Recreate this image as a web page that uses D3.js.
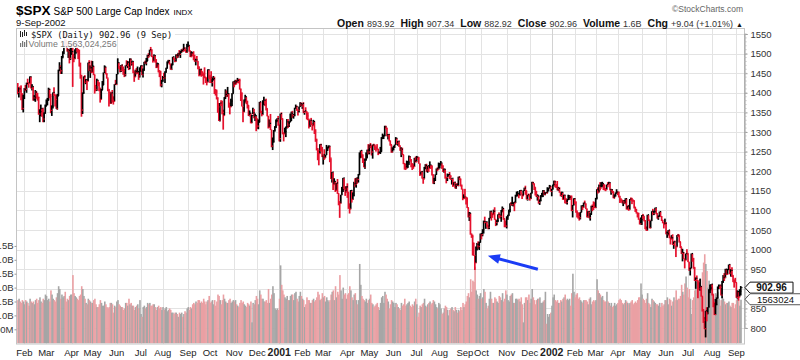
<!DOCTYPE html>
<html>
<head>
<meta charset="utf-8">
<script src="https://cdn.jsdelivr.net/npm/d3@7"></script>
<style>
  body { margin: 0; background: #fff; }
  svg { display: block; font-family: Arial, "Liberation Sans", sans-serif; }
</style>
</head>
<body>
<script>
// ---- data, one inner array per month ----
var monthLabels = ["", "Feb", "Mar", "Apr", "May", "Jun", "Jul", "Aug", "Sep", "Oct", "Nov", "Dec",
  "2001", "Feb", "Mar", "Apr", "May", "Jun", "Jul", "Aug", "Sep", "Oct", "Nov", "Dec",
  "2002", "Feb", "Mar", "Apr", "May", "Jun", "Jul", "Aug", "Sep"];
var priceTicks = [800, 850, 900, 950, 1000, 1050, 1100, 1150, 1200, 1250, 1300, 1350, 1400, 1450, 1500, 1550];
var volumeTicks = [0.5, 1, 1.5, 2, 2.5, 3, 3.5];
var volumeTickLabels = ["500M", "1.0B", "1.5B", "2.0B", "2.5B", "3.0B", "3.5B"];

var closes = [
  [1401,1410,1404,1398,1360,1394],
  [1409,1409,1424,1424,1424,1441,1411,1416,1387,1389,1402,1388,1388,1346,1352,1360,1353,1333,1348,1366],
  [1379,1381,1409,1391,1355,1366,1401,1395,1383,1359,1392,1458,1464,1456,1493,1500,1527,1527,1523,1507,1508,1488,1499],
  [1505,1494,1487,1501,1516,1504,1500,1467,1440,1356,1401,1441,1427,1434,1429,1477,1460,1464,1452],
  [1468,1446,1415,1409,1432,1424,1412,1383,1407,1420,1452,1466,1448,1438,1406,1400,1373,1400,1381,1378,1422,1421],
  [1448,1477,1467,1457,1471,1461,1456,1446,1470,1470,1478,1465,1486,1475,1480,1453,1441,1455,1450,1454,1443,1455],
  [1469,1446,1457,1478,1476,1481,1495,1495,1510,1510,1493,1481,1495,1480,1465,1474,1453,1450,1420,1431],
  [1439,1438,1452,1463,1479,1482,1473,1460,1471,1492,1485,1480,1496,1492,1499,1498,1506,1508,1507,1514,1510,1503,1518],
  [1521,1507,1492,1502,1495,1489,1481,1484,1480,1466,1445,1460,1452,1450,1449,1440,1428,1427,1459,1437],
  [1436,1426,1434,1436,1408,1402,1387,1364,1329,1374,1374,1350,1342,1389,1396,1395,1398,1365,1364,1379,1398,1429],
  [1421,1428,1427,1432,1431,1410,1400,1365,1351,1382,1390,1373,1368,1342,1348,1323,1342,1349,1336,1342,1315],
  [1315,1325,1377,1351,1344,1370,1381,1371,1360,1340,1312,1322,1305,1264,1274,1305,1315,1329,1334,1320],
  [1283,1347,1334,1298,1295,1301,1314,1326,1318,1326,1329,1348,1342,1343,1361,1365,1357,1355,1365,1373,1366],
  [1373,1350,1354,1352,1341,1333,1315,1330,1319,1316,1327,1302,1279,1256,1253,1245,1268,1258,1240],
  [1242,1234,1242,1253,1261,1264,1234,1180,1198,1166,1174,1151,1170,1143,1122,1118,1140,1153,1183,1154,1148,1160],
  [1146,1106,1103,1151,1128,1137,1168,1166,1183,1179,1191,1238,1253,1242,1225,1210,1228,1234,1254,1249],
  [1267,1266,1249,1267,1264,1262,1256,1256,1245,1249,1250,1285,1289,1292,1313,1310,1290,1294,1277,1268,1249,1256],
  [1261,1268,1284,1271,1277,1265,1255,1256,1242,1219,1215,1208,1213,1223,1237,1226,1219,1216,1212,1226,1224],
  [1236,1235,1219,1191,1199,1181,1180,1208,1215,1203,1214,1207,1216,1211,1191,1172,1182,1192,1206,1205,1211],
  [1216,1221,1214,1200,1205,1184,1184,1191,1192,1186,1179,1182,1162,1172,1157,1166,1163,1185,1180,1162,1154,1130,1134],
  [1133,1132,1107,1085,1093,1039,1033,1017,985,966,1004,1013,1008,1019,1041],
  [1038,1052,1072,1069,1071,1063,1057,1081,1098,1092,1090,1098,1077,1069,1074,1090,1085,1085,1101,1105,1079,1060,1060],
  [1084,1087,1102,1118,1115,1118,1121,1119,1139,1142,1143,1138,1151,1142,1137,1151,1157,1150,1128,1140,1139],
  [1130,1144,1171,1168,1159,1139,1136,1137,1120,1124,1135,1142,1150,1140,1145,1144,1150,1157,1162,1148],
  [1154,1166,1173,1165,1160,1155,1156,1146,1138,1146,1128,1139,1128,1120,1128,1133,1134,1133,1100,1114,1130],
  [1122,1094,1090,1084,1081,1096,1112,1108,1119,1117,1104,1084,1097,1081,1090,1110,1109,1109,1107],
  [1132,1154,1147,1163,1157,1164,1168,1165,1154,1153,1166,1166,1171,1151,1153,1148,1131,1139,1144,1147],
  [1147,1136,1126,1126,1122,1125,1117,1130,1103,1111,1102,1129,1127,1125,1125,1108,1100,1093,1092,1076,1066,1077],
  [1087,1085,1074,1052,1049,1089,1074,1055,1074,1098,1092,1096,1107,1092,1081,1087,1097,1084,1075,1068,1064,1067],
  [1040,1041,1050,1030,1027,1030,1013,1020,1009,1007,1037,1037,1020,1007,990,992,976,973,990,990],
  [968,948,953,990,976,952,921,927,921,918,900,906,881,847,820,798,844,838,853,899,902,912],
  [885,865,834,860,876,906,909,904,884,920,929,929,950,937,949,962,940,947,934,917,917,916],
  [878,893,879,894,903]
];
var highs = [
  [1425,1414,1416,1419,1398,1395],
  [1412,1420,1426,1436,1427,1442,1441,1422,1416,1394,1407,1404,1400,1390,1358,1370,1360,1362,1350,1370],
  [1383,1387,1413,1410,1397,1368,1401,1414,1395,1395,1397,1459,1478,1470,1494,1506,1532,1553,1535,1523,1512,1512,1519],
  [1521,1526,1499,1511,1518,1528,1512,1510,1477,1446,1401,1442,1445,1435,1434,1477,1483,1470,1482],
  [1481,1468,1446,1420,1436,1432,1427,1412,1410,1430,1452,1470,1466,1450,1437,1410,1403,1401,1407,1391,1422,1433],
  [1448,1488,1477,1468,1471,1472,1467,1460,1470,1483,1481,1480,1488,1487,1482,1480,1455,1459,1463,1467,1455,1465],
  [1470,1470,1462,1479,1482,1489,1497,1501,1510,1517,1510,1494,1498,1496,1486,1477,1474,1458,1456,1433],
  [1443,1451,1455,1464,1480,1484,1484,1473,1475,1492,1492,1488,1498,1499,1502,1509,1507,1511,1513,1525,1516,1510,1525],
  [1531,1520,1507,1506,1502,1506,1497,1487,1494,1480,1467,1461,1461,1455,1449,1465,1440,1439,1460,1459],
  [1445,1455,1439,1443,1441,1409,1408,1388,1374,1374,1381,1380,1357,1389,1409,1406,1415,1398,1375,1385,1399,1429],
  [1429,1433,1433,1438,1435,1436,1410,1400,1365,1383,1395,1389,1380,1368,1355,1348,1344,1362,1359,1347,1341],
  [1335,1332,1377,1377,1354,1381,1390,1382,1385,1360,1341,1332,1346,1305,1286,1305,1315,1332,1335,1341],
  [1320,1347,1350,1334,1298,1311,1314,1333,1333,1327,1347,1352,1354,1346,1362,1370,1367,1357,1365,1376,1375],
  [1373,1376,1354,1363,1352,1350,1333,1330,1336,1322,1331,1327,1307,1283,1259,1253,1269,1270,1262],
  [1242,1256,1242,1267,1263,1266,1264,1233,1198,1197,1182,1173,1170,1180,1143,1123,1140,1160,1183,1182,1161,1162],
  [1169,1146,1118,1152,1151,1146,1173,1182,1183,1184,1193,1248,1253,1253,1242,1233,1232,1248,1255,1269],
  [1268,1272,1266,1268,1270,1268,1262,1269,1257,1250,1262,1287,1296,1293,1316,1316,1310,1295,1294,1278,1268,1261],
  [1265,1268,1287,1284,1277,1277,1264,1261,1260,1242,1221,1219,1227,1226,1240,1238,1231,1220,1219,1234,1237],
  [1239,1237,1235,1219,1199,1201,1185,1211,1218,1219,1214,1214,1225,1216,1215,1192,1183,1192,1207,1210,1222],
  [1221,1226,1220,1214,1207,1205,1185,1194,1193,1198,1190,1182,1181,1172,1173,1168,1170,1186,1187,1181,1166,1154,1141],
  [1155,1135,1132,1107,1096,1093,1041,1038,1017,984,1008,1017,1021,1020,1041],
  [1041,1052,1074,1084,1072,1071,1063,1081,1099,1098,1092,1102,1108,1077,1075,1090,1095,1090,1101,1110,1106,1079,1074],
  [1085,1089,1102,1118,1121,1135,1121,1120,1140,1148,1149,1144,1152,1152,1142,1151,1158,1163,1150,1140,1143],
  [1139,1145,1173,1173,1168,1159,1150,1141,1137,1128,1139,1145,1152,1151,1147,1147,1159,1158,1165,1162],
  [1155,1166,1176,1176,1167,1175,1160,1159,1146,1148,1145,1140,1139,1131,1129,1140,1139,1138,1138,1114,1131],
  [1131,1122,1100,1095,1094,1096,1113,1112,1120,1125,1117,1104,1098,1099,1093,1112,1115,1123,1121],
  [1132,1154,1159,1166,1172,1172,1173,1168,1165,1157,1166,1172,1173,1171,1155,1154,1148,1141,1146,1154],
  [1148,1147,1136,1131,1127,1126,1126,1131,1130,1112,1114,1129,1133,1132,1128,1125,1109,1104,1095,1094,1079,1082],
  [1088,1091,1085,1075,1059,1089,1088,1077,1074,1098,1104,1099,1107,1106,1093,1087,1097,1097,1085,1075,1070,1079],
  [1070,1046,1050,1050,1033,1037,1039,1021,1023,1009,1037,1040,1037,1020,1006,1002,994,977,990,1001],
  [990,968,954,990,990,979,956,929,934,921,917,926,907,881,848,828,844,853,853,899,911,912],
  [912,885,865,874,878,906,911,909,911,920,935,940,951,950,951,962,962,950,955,934,924,928],
  [916,896,893,899,907]
];
var lows = [
  [1396,1388,1401,1381,1356,1350],
  [1384,1404,1400,1420,1413,1424,1411,1406,1380,1380,1377,1385,1380,1344,1325,1340,1339,1325,1325,1347],
  [1366,1368,1381,1386,1348,1341,1360,1392,1365,1359,1357,1392,1455,1448,1448,1488,1500,1517,1518,1505,1489,1475,1484],
  [1497,1415,1478,1486,1501,1503,1486,1467,1436,1339,1346,1397,1424,1422,1407,1430,1455,1438,1450],
  [1452,1445,1398,1404,1405,1417,1404,1375,1383,1407,1420,1452,1447,1436,1404,1365,1372,1372,1375,1370,1378,1420],
  [1421,1448,1461,1452,1453,1455,1446,1440,1442,1467,1463,1458,1460,1469,1470,1450,1428,1440,1447,1450,1433,1439],
  [1455,1445,1439,1457,1474,1470,1481,1489,1493,1505,1491,1477,1481,1477,1463,1464,1452,1440,1416,1414],
  [1428,1435,1425,1452,1462,1475,1472,1459,1458,1471,1484,1478,1480,1488,1490,1495,1489,1502,1504,1506,1506,1502,1502],
  [1517,1505,1491,1492,1493,1483,1479,1470,1479,1460,1442,1445,1441,1443,1421,1437,1425,1419,1427,1436],
  [1425,1425,1416,1431,1397,1393,1383,1349,1328,1327,1366,1345,1306,1342,1384,1389,1390,1362,1345,1364,1366,1398],
  [1414,1421,1421,1426,1424,1408,1379,1365,1325,1351,1375,1371,1360,1341,1340,1322,1323,1346,1335,1328,1302],
  [1308,1307,1325,1348,1340,1344,1370,1366,1355,1340,1309,1312,1305,1261,1254,1274,1301,1310,1325,1316],
  [1276,1275,1331,1294,1276,1295,1287,1309,1310,1313,1325,1328,1336,1334,1340,1360,1354,1342,1350,1365,1366],
  [1359,1348,1344,1350,1332,1330,1309,1313,1318,1304,1316,1295,1275,1253,1228,1215,1245,1250,1236],
  [1217,1229,1234,1242,1253,1258,1223,1180,1171,1152,1166,1147,1150,1142,1113,1081,1118,1140,1147,1153,1137,1146],
  [1132,1104,1092,1104,1120,1127,1137,1160,1158,1168,1171,1191,1233,1234,1221,1210,1206,1228,1234,1243],
  [1243,1259,1240,1232,1263,1254,1250,1256,1241,1244,1244,1250,1282,1282,1289,1307,1289,1281,1276,1265,1247,1248],
  [1253,1260,1268,1268,1265,1262,1252,1236,1241,1218,1204,1203,1207,1208,1216,1225,1210,1203,1206,1211,1222],
  [1224,1229,1219,1188,1190,1181,1168,1181,1205,1198,1196,1198,1207,1206,1189,1168,1167,1175,1191,1200,1204],
  [1207,1215,1206,1198,1196,1181,1169,1175,1186,1180,1178,1166,1160,1163,1156,1155,1162,1162,1177,1161,1153,1126,1129],
  [1129,1115,1106,1082,1073,1038,1030,985,984,948,966,998,1002,999,1018],
  [1026,1034,1041,1067,1053,1057,1052,1052,1081,1074,1081,1088,1076,1060,1062,1070,1081,1079,1071,1095,1076,1057,1057],
  [1054,1076,1087,1095,1112,1112,1110,1098,1119,1135,1136,1131,1138,1141,1129,1137,1150,1140,1128,1125,1135],
  [1125,1129,1144,1166,1152,1138,1134,1125,1117,1114,1124,1135,1134,1139,1139,1144,1144,1150,1157,1148],
  [1136,1154,1163,1159,1157,1151,1150,1145,1136,1135,1127,1127,1118,1117,1115,1126,1127,1127,1098,1082,1113],
  [1116,1094,1082,1079,1074,1077,1095,1101,1107,1115,1103,1082,1082,1080,1074,1089,1098,1101,1106],
  [1106,1128,1143,1146,1151,1159,1159,1152,1151,1149,1153,1159,1166,1151,1140,1144,1131,1131,1135,1144],
  [1139,1133,1119,1120,1118,1111,1117,1116,1102,1103,1099,1102,1124,1116,1122,1105,1096,1092,1082,1076,1064,1064],
  [1063,1077,1072,1052,1048,1049,1073,1054,1055,1074,1088,1088,1096,1090,1079,1076,1083,1083,1073,1067,1054,1064],
  [1039,1030,1036,1029,1013,1027,1012,1002,1009,981,1007,1032,1018,1004,989,970,976,952,973,986],
  [968,946,934,953,969,951,920,900,919,876,897,895,880,842,813,797,776,817,835,853,889,896],
  [883,853,833,834,858,876,899,900,883,876,915,920,927,935,937,949,937,931,930,917,903,916],
  [877,875,870,880,883]
];
// volume in billions of shares
var volumes = [
  [1.55,1.6,1.5,1.45,1.55,1.5],
  [1.4,1.55,1.5,1.45,1.35,1.6,1.5,1.45,1.5,1.4,1.55,1.6,1.45,1.55,1.65,1.5,1.45,1.6,1.55,1.75],
  [1.7,1.55,1.6,1.5,1.9,1.75,1.6,1.55,1.5,1.65,1.8,2.05,1.95,1.6,1.75,1.65,1.7,1.85,1.5,1.6,1.55,1.7,1.75],
  [1.75,2.45,1.8,1.7,1.65,1.6,1.55,1.7,1.75,2.05,1.95,1.7,1.6,1.45,1.4,1.6,1.55,1.5,1.45],
  [1.45,1.55,1.6,1.4,1.3,1.3,1.4,1.55,1.45,1.35,1.35,1.5,1.4,1.3,1.25,1.3,1.45,1.45,1.4,1.1,1.35,1.3],
  [1.5,1.55,1.4,1.35,1.3,1.3,1.2,1.25,1.45,1.45,1.35,1.6,1.4,1.45,1.35,1.35,1.2,1.3,1.35,1.4,1.25,1.55],
  [1.05,0.95,1.3,1.35,1.25,1.3,1.45,1.4,1.45,1.35,1.35,1.4,1.4,1.3,1.2,1.3,1.35,1.25,1.3,1.2],
  [1.3,1.2,1.25,1.3,1.15,1.2,1.25,1.2,1.1,1.1,1.05,1.1,1.1,1.05,0.95,1.1,1.05,1.1,0.95,1.05,1.15,1.1,1.25],
  [1.3,1.2,1.3,1.25,1.4,1.45,1.4,1.5,1.45,1.55,1.55,1.45,1.5,1.45,1.6,1.5,1.4,1.5,1.55,1.7],
  [1.45,1.5,1.55,1.4,1.55,1.35,1.5,1.75,1.7,1.55,1.4,1.55,1.75,1.6,1.5,1.45,1.45,1.55,1.6,1.45,1.5,1.55],
  [1.5,1.55,1.4,1.35,1.3,1.45,1.55,1.45,1.5,1.4,1.35,1.3,1.45,1.4,1.35,1.5,0.75,1.45,1.4,1.55,1.7],
  [1.6,1.4,1.9,1.75,1.6,1.6,1.5,1.5,1.55,1.45,1.95,1.45,1.6,1.75,2.05,1.8,1.25,1.2,1.25,1.2],
  [1.6,2.8,2.1,1.9,1.75,1.65,1.6,1.7,1.55,1.55,1.7,1.75,1.75,1.55,1.8,1.85,1.6,1.5,1.7,1.85,1.7],
  [1.6,1.55,1.3,1.4,1.65,1.55,1.55,1.45,1.45,1.55,1.6,1.5,1.55,1.65,1.85,1.75,1.55,1.6,1.8],
  [1.65,1.7,1.5,1.65,1.55,1.5,1.55,1.75,1.85,1.9,1.55,2.05,1.65,1.85,1.75,2.45,1.9,1.6,2.0,1.75,1.8,1.6],
  [1.75,1.8,2.05,1.9,1.65,1.55,1.75,1.8,1.55,1.4,1.55,2.85,2.1,1.7,1.6,1.55,1.5,1.6,1.45,1.55],
  [1.6,1.75,1.45,1.4,1.3,1.35,1.4,1.45,1.3,1.2,1.45,1.65,1.7,1.45,1.85,1.75,1.6,1.5,1.25,1.4,1.55,1.5],
  [1.45,1.3,1.45,1.4,1.3,1.25,1.2,1.45,1.35,1.4,1.6,1.35,1.4,1.45,1.5,1.35,1.3,1.4,1.35,1.5,1.6],
  [1.4,0.95,1.1,1.35,1.3,1.4,1.45,1.6,1.35,1.3,1.4,1.45,1.5,1.4,1.45,1.55,1.5,1.4,1.3,1.25,1.45],
  [1.4,1.25,1.05,1.1,1.25,1.35,1.3,1.2,1.0,1.2,1.25,1.3,1.2,1.15,1.3,1.2,1.1,1.2,1.15,1.3,1.2,1.45,1.3],
  [1.4,1.5,1.7,1.8,1.65,2.3,1.85,2.25,2.2,2.75,1.9,1.75,1.6,1.7,1.8],
  [1.6,1.65,1.95,1.85,1.45,1.25,1.35,1.6,1.85,1.6,1.45,1.45,1.65,1.6,1.5,1.45,1.7,1.65,1.55,1.8,1.5,1.6,1.9],
  [1.75,1.55,1.5,1.7,1.75,1.8,1.45,1.45,1.6,1.6,1.55,1.6,1.5,1.65,1.4,0.75,1.45,1.65,1.65,1.55,1.75],
  [1.45,1.6,1.95,1.65,1.55,1.4,1.55,1.6,1.6,1.65,1.45,1.45,1.5,1.55,1.85,0.7,1.05,0.95,1.05,1.1],
  [1.35,1.65,1.75,1.55,1.5,1.55,1.45,1.45,1.55,1.5,1.6,1.65,1.75,1.55,1.6,1.55,1.6,1.35,1.8,2.5,1.85],
  [1.65,1.75,1.8,1.6,1.65,1.55,1.5,1.45,1.55,1.55,1.55,1.5,1.4,1.6,1.65,1.4,1.5,1.55,1.5],
  [1.55,2.3,1.9,1.8,1.75,1.65,1.7,1.55,1.5,1.5,1.85,1.5,1.45,1.35,1.45,1.3,1.35,1.45,1.35,1.4],
  [1.45,1.55,1.6,1.55,1.45,1.4,1.45,1.55,1.5,1.45,1.4,1.45,1.5,1.55,1.4,1.45,1.5,1.45,1.55,1.65,1.65,2.15],
  [1.75,1.6,1.55,1.45,1.6,1.8,1.45,1.4,1.3,1.6,1.55,1.5,1.45,1.4,1.4,1.35,1.45,1.3,1.45,1.35,1.4,1.55],
  [1.55,1.65,1.4,1.6,1.55,1.35,1.5,1.65,1.55,1.9,1.55,1.6,1.6,1.7,2.1,1.85,1.75,2.15,2.4,2.0],
  [1.65,1.95,1.6,1.05,1.55,1.65,1.9,2.2,1.95,2.2,2.0,2.3,2.05,2.55,2.9,3.2,2.85,2.6,2.0,2.25,2.0,1.95],
  [2.0,1.8,1.6,1.8,1.75,1.85,1.6,1.35,1.55,1.65,1.6,1.5,1.4,1.45,1.45,1.5,1.35,1.3,1.45,1.45,1.25,1.4],
  [1.55,1.65,1.55,1.35,1.563]
];
var lastClose = "902.96", lastVolume = "1563024";
var quote = [["Open", "893.92"], ["High", "907.34"], ["Low", "882.92"], ["Close", "902.96"],
  ["Volume", "1.6B"], ["Chg", "+9.04 (+1.01%)"]];

// flatten
var close = d3.merge(closes), high = d3.merge(highs), low = d3.merge(lows), vol = d3.merge(volumes);
var n = close.length;
var monthStart = [], acc = 0;
closes.forEach(function(m) { monthStart.push(acc); acc += m.length; });

var width = 800, height = 360;
var plotL = 16, plotR = 744, plotT = 28.5, plotB = 344;

var x = d3.scaleBand().domain(d3.range(n)).range([17.2, 741.3]);
var bw = x.bandwidth();
var cx = function(i) { return x(i) + bw / 2; };
var y = d3.scaleLinear().domain([800, 1550]).range([328, 34]);
var yVol = d3.scaleLinear().domain([0, 3.5]).range([343.2, 245.9]);
var isUp = function(i) { return i > 0 && close[i] > close[i - 1]; };

var svg = d3.select("body").append("svg")
    .attr("width", width)
    .attr("height", height);

// grid
var grid = svg.append("g").attr("class", "grid");
grid.selectAll("line.h").data(priceTicks).enter().append("line")
    .attr("x1", plotL).attr("x2", plotR)
    .attr("y1", function(d) { return Math.round(y(d)) + 0.5; })
    .attr("y2", function(d) { return Math.round(y(d)) + 0.5; })
    .attr("stroke", "#e3e3e3");
grid.selectAll("line.v").data(monthStart.slice(1)).enter().append("line")
    .attr("x1", function(d) { return Math.round(cx(d)) + 0.5; })
    .attr("x2", function(d) { return Math.round(cx(d)) + 0.5; })
    .attr("y1", plotT).attr("y2", plotB)
    .attr("stroke", function(d, i) { return monthLabels[i + 1].length == 4 ? "#d2d2d2" : "#e3e3e3"; });

// volume bars
svg.append("g").selectAll("rect").data(vol).enter().append("rect")
    .attr("x", function(d, i) { return x(i); })
    .attr("width", bw + 0.5)
    .attr("y", function(d) { return yVol(d); })
    .attr("height", function(d) { return yVol(0) - yVol(d); })
    .attr("fill", function(d, i) { return isUp(i) ? "#a6a6a6" : "#eaa0a4"; });

// price bars (high-low line plus a close tick)
var bars = svg.append("g");
bars.selectAll("rect.hl").data(close).enter().append("rect")
    .attr("x", function(d, i) { return cx(i) - 0.85; })
    .attr("width", 1.7)
    .attr("y", function(d, i) { return y(high[i]); })
    .attr("height", function(d, i) { return Math.max(1, y(low[i]) - y(high[i])); })
    .attr("fill", function(d, i) { return isUp(i) ? "#000" : "#e5102c"; });
bars.selectAll("rect.c").data(close).enter().append("rect")
    .attr("x", function(d, i) { return cx(i) + 0.5; })
    .attr("width", 1.2)
    .attr("y", function(d) { return y(d) - 0.6; })
    .attr("height", 1.2)
    .attr("fill", function(d, i) { return isUp(i) ? "#000" : "#e5102c"; });

// frame
svg.append("rect")
    .attr("x", plotL + 0.5).attr("y", plotT)
    .attr("width", plotR - plotL).attr("height", plotB - plotT)
    .attr("fill", "none").attr("stroke", "#c4c4c4");

// right price axis (the 900 label sits under the last-close tag, as in the original)
var ax = svg.append("g")
    .attr("transform", "translate(" + (plotR + 0.5) + ",0)")
    .call(d3.axisRight(y).tickValues(priceTicks).tickSize(3).tickPadding(3)
      .tickFormat(function(d) { return Math.abs(y(d) - y(+lastClose)) < 7 ? "" : d; }));
ax.select(".domain").attr("stroke", "#999");
ax.selectAll(".tick line").attr("stroke", "#999");
ax.selectAll("text").attr("font-size", 9.5).attr("fill", "#333").attr("font-family", "Arial, 'Liberation Sans', sans-serif");
ax.append("g").selectAll("line").data(d3.range(800, 1551, 10)).enter().append("line")
    .attr("x1", 0).attr("x2", 2)
    .attr("y1", function(d) { return y(d); }).attr("y2", function(d) { return y(d); })
    .attr("stroke", "#bbb");

// left volume axis (labels run off the left edge like the original)
var vax = svg.append("g")
    .attr("transform", "translate(" + (plotL + 0.5) + ",0)")
    .call(d3.axisLeft(yVol).tickValues(volumeTicks).tickSize(2).tickPadding(1)
      .tickFormat(function(d, i) { return volumeTickLabels[i]; }));
vax.select(".domain").remove();
vax.selectAll(".tick line").attr("stroke", "#999");
vax.selectAll("text").attr("font-size", 9.5).attr("fill", "#333").attr("font-family", "Arial, 'Liberation Sans', sans-serif");

// month labels
svg.append("g").selectAll("text").data(monthLabels).enter().append("text")
    .attr("x", function(d, i) { return cx(monthStart[i]); })
    .attr("y", 356)
    .attr("text-anchor", "middle")
    .attr("font-size", function(d) { return d.length == 4 ? 10.5 : 9.5; })
    .attr("font-weight", function(d) { return d.length == 4 ? "bold" : "normal"; })
    .attr("fill", "#222")
    .text(function(d) { return d; });

// in-chart legend
svg.append("rect").attr("x", 17).attr("y", 29).attr("width", 158).attr("height", 10).attr("fill", "#fff").attr("opacity", 0.92);
svg.append("rect").attr("x", 17).attr("y", 39).attr("width", 98).attr("height", 9).attr("fill", "#fff").attr("opacity", 0.92);
var ic = svg.append("g").attr("fill", "#222");
[[20, 31, 6], [22, 32, 5], [24, 30, 6], [26, 32, 4]].forEach(function(b) {
  ic.append("rect").attr("x", b[0]).attr("y", b[1]).attr("width", 1).attr("height", b[2]);
});
[[20, 43, 4], [22, 41, 6], [24, 42, 5], [26, 40, 7]].forEach(function(b) {
  ic.append("rect").attr("x", b[0]).attr("y", b[1]).attr("width", 1.2).attr("height", b[2]).attr("fill", "#777");
});
svg.append("text").attr("x", 31).attr("y", 37.5)
    .attr("font-family", "'DejaVu Sans Mono', monospace").attr("font-size", 8.7).attr("fill", "#111")
    .text("$SPX (Daily) " + lastClose + " (9 Sep)");
svg.append("text").attr("x", 28.5).attr("y", 46.5)
    .attr("font-size", 8.8).attr("fill", "#777")
    .text("Volume 1,563,024,256");

// header
var t = svg.append("text").attr("x", 16).attr("y", 15);
t.append("tspan").attr("font-weight", "bold").attr("font-size", 13.5).text("$SPX");
t.append("tspan").attr("dx", 3).attr("font-size", 10).text("S&P 500 Large Cap Index");
t.append("tspan").attr("dx", 4).attr("font-size", 8).text("INDX");
svg.append("text").attr("x", 16).attr("y", 25.5).attr("font-size", 9.5).attr("fill", "#111").text("9-Sep-2002");
svg.append("text").attr("x", 743).attr("y", 12).attr("text-anchor", "end")
    .attr("font-size", 8.5).attr("fill", "#666").text("\u00A9StockCharts.com");

var q = svg.append("text").attr("x", 743).attr("y", 26.5).attr("text-anchor", "end").attr("fill", "#111");
quote.forEach(function(p, i) {
  q.append("tspan").attr("dx", i ? 6 : 0).attr("font-weight", "bold").attr("font-size", 10.5).text(p[0]);
  q.append("tspan").attr("dx", 3).attr("font-size", 9).attr("fill", "#333").text(p[1]);
});
q.append("tspan").attr("dx", 3).attr("font-size", 7).text("\u25B2");

// value tags on the right
function tag(yy, label, bold) {
  var g = svg.append("g");
  var w = bold ? 43 : 51;
  g.append("path")
    .attr("d", "M" + (plotR + 1) + "," + yy + "L" + (plotR + 6) + "," + (yy - 5.5) + "H" + (plotR + 6 + w) +
         "V" + (yy + 5.5) + "H" + (plotR + 6) + "Z")
    .attr("fill", "#fff").attr("stroke", bold ? "#111" : "#555");
  g.append("text").attr("x", plotR + 6 + w / 2).attr("y", yy + 3.3).attr("text-anchor", "middle")
    .attr("font-size", bold ? 10 : 9.5).attr("font-weight", bold ? "bold" : "normal").attr("fill", "#111").text(label);
}
tag(y(+lastClose), lastClose, true);
tag(yVol(vol[n - 1]) - 0.5, lastVolume, false);

// blue annotation arrow pointing at the Sept 2001 low
var iLow = monthStart[20] + 9;
var tip = [cx(iLow) + 13, y(984)], tail = [cx(iLow) + 63, y(950)];
var ang = Math.atan2(tip[1] - tail[1], tip[0] - tail[0]);
svg.append("line")
    .attr("x1", tail[0]).attr("y1", tail[1])
    .attr("x2", tip[0] - 8 * Math.cos(ang)).attr("y2", tip[1] - 8 * Math.sin(ang))
    .attr("stroke", "#1b3cf5").attr("stroke-width", 3);
var hw = 5, hl = 12;
svg.append("path")
    .attr("d", "M" + tip[0] + "," + tip[1] +
      "L" + (tip[0] - hl * Math.cos(ang) + hw * Math.sin(ang)) + "," + (tip[1] - hl * Math.sin(ang) - hw * Math.cos(ang)) +
      "L" + (tip[0] - hl * Math.cos(ang) - hw * Math.sin(ang)) + "," + (tip[1] - hl * Math.sin(ang) + hw * Math.cos(ang)) + "Z")
    .attr("fill", "#1b3cf5");
</script>
</body>
</html>
